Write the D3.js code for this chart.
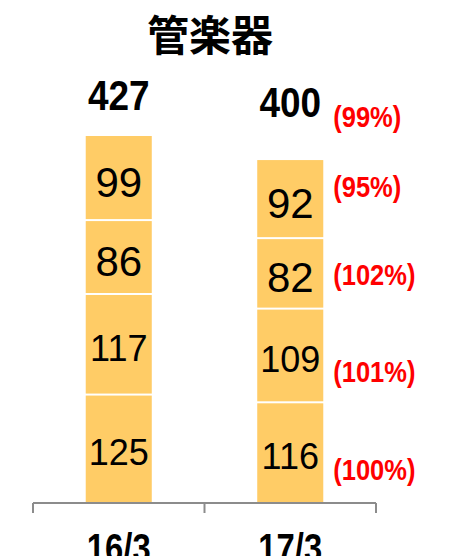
<!DOCTYPE html>
<html>
<head>
<meta charset="utf-8">
<script src="https://cdn.jsdelivr.net/npm/d3@7"></script>
<style>
  body { margin: 0; background: #fff; }
</style>
</head>
<body>
<div id="chart"></div>
<script>
// 管楽器 売上推移（億円）
const title = '管楽器'
const categories = ['16/3', '17/3']
// 各セグメント（下から上へ）
const seg1 = [125, 117, 86, 99]
const seg2 = [116, 109, 82, 92]
const totals = [427, 400]
// 前年比
const totalPct = '(99%)'
const segPct = ['(100%)', '(101%)', '(102%)', '(95%)']

const width = 473
const height = 556
const margin = { left: 33, right: 97, bottom: 53 }

const svg = d3.select('#chart')
  .append('svg')
  .attr('width', width)
  .attr('height', height)

const x = d3.scaleBand()
  .domain(categories)
  .range([margin.left, width - margin.right])
  .padding(0)

const y = d3.scaleLinear()
  .domain([0, d3.max(totals)])
  .range([height - margin.bottom, 136])

const barW = x.bandwidth() * 0.385
const stacks = [seg1, seg2]

// 横長の太字を詰めて描く（ゴシック体風）
function narrow(sel, px, py, sx, fs, fill, anchor) {
  return sel.append('text')
    .attr('transform', `translate(${px},${py}) scale(${sx},1)`)
    .attr('text-anchor', anchor)
    .attr('font-family', '"Liberation Sans", Arial, sans-serif')
    .attr('font-weight', 'bold')
    .attr('font-size', fs)
    .attr('fill', fill)
}

// 棒を描く
stacks.forEach((vals, ci) => {
  const cx = x(categories[ci]) + x.bandwidth() / 2
  let acc = 0
  const segs = vals.map((v, i) => {
    const s = { v, i, lo: acc, hi: acc + v }
    acc += v
    return s
  })
  const g = svg.append('g')
  g.selectAll('rect')
    .data(segs)
    .join('rect')
    .attr('x', cx - barW / 2)
    .attr('y', d => y(d.hi))
    .attr('width', barW)
    .attr('height', d => y(d.lo) - y(d.hi) - (d.i > 0 ? 2 : 0))
    .attr('fill', '#ffcc66')

  g.selectAll('text')
    .data(segs)
    .join('text')
    .attr('x', cx)
    .attr('y', d => {
      const fs = String(d.v).length > 2 ? 36 : 42
      return (y(d.lo) + y(d.hi)) / 2 + 3 + 0.358 * fs
    })
    .attr('text-anchor', 'middle')
    .attr('font-family', '"Liberation Sans", Arial, sans-serif')
    .attr('font-size', d => String(d.v).length > 2 ? 36 : 42)
    .attr('fill', '#000')
    .text(d => d.v)

  // 前年比ラベル（17/3のみ）
  if (ci === 1) {
    const nudge = [16, 15, 0, -14]
    segs.forEach(d => {
      narrow(g, cx + barW / 2 + 10, (y(d.lo) + y(d.hi)) / 2 + nudge[d.i] + 11, 0.85, 30, '#ff0000', 'start')
        .text(segPct[d.i])
    })
  }
})

// 合計ラベル
const totalLift = [26, 42]
totals.forEach((t, i) => {
  narrow(svg, x(categories[i]) + x.bandwidth() / 2, y(t) - totalLift[i], 0.88, 42, '#000', 'middle')
    .text(t)
})

narrow(svg, x(categories[1]) + x.bandwidth() / 2 + barW / 2 + 10, y(totals[1]) - totalLift[1] + 10, 0.85, 30, '#ff0000', 'start')
  .text(totalPct)

// X軸
const axisY = height - margin.bottom
const axis = svg.append('g').attr('stroke', '#8c8c8c').attr('stroke-width', 2)
axis.append('line')
  .attr('x1', margin.left).attr('x2', width - margin.right)
  .attr('y1', axisY).attr('y2', axisY)
const tickXs = categories.map(c => x(c)).concat([x(categories[categories.length - 1]) + x.bandwidth()])
axis.selectAll('line.tick')
  .data(tickXs)
  .join('line')
  .attr('class', 'tick')
  .attr('x1', d => d).attr('x2', d => d)
  .attr('y1', axisY).attr('y2', axisY + 10)

categories.forEach(c => {
  narrow(svg, x(c) + x.bandwidth() / 2, axisY + 59, 0.82, 40, '#000', 'middle')
    .text(c)
})

// タイトル
svg.append('text')
  .attr('x', 210)
  .attr('y', 51)
  .attr('text-anchor', 'middle')
  .attr('font-family', '"Noto Sans CJK JP", sans-serif')
  .attr('font-weight', 'bold')
  .attr('font-size', 42)
  .attr('fill', '#000')
  .text(title)
</script>
</body>
</html>
